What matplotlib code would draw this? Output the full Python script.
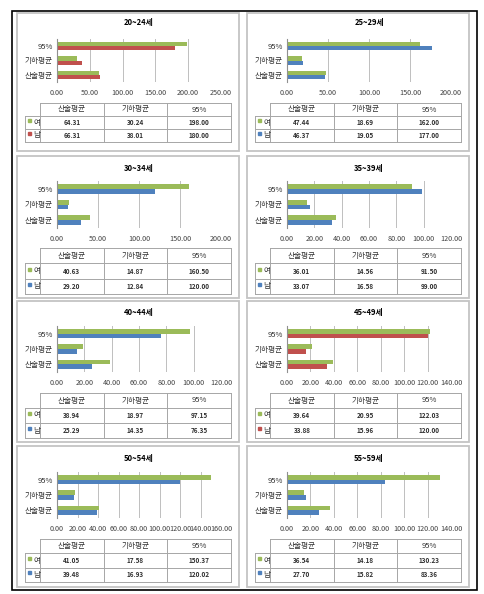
import matplotlib.pyplot as plt
from matplotlib.patches import Rectangle

plt.rcParams['font.family'] = ['Noto Sans CJK KR', 'DejaVu Sans']

# data
titles = ["20~24세", "25~29세", "30~34세", "35~39세",
          "40~44세", "45~49세", "50~54세", "55~59세"]
categories = ["산술평균", "기하평균", "95%"]
series_names = ["여", "남"]
female = [[64.31, 30.24, 198.00],
          [47.44, 18.69, 162.00],
          [40.63, 14.87, 160.50],
          [36.01, 14.56, 91.50],
          [38.94, 18.97, 97.15],
          [39.64, 20.95, 122.03],
          [41.05, 17.58, 150.37],
          [36.54, 14.18, 130.23]]
male = [[66.31, 38.01, 180.00],
        [46.37, 19.05, 177.00],
        [29.20, 12.84, 120.00],
        [33.07, 16.58, 99.00],
        [25.29, 14.35, 76.35],
        [33.88, 15.96, 120.00],
        [39.48, 16.93, 120.02],
        [27.70, 15.82, 83.36]]
x_max = [250, 200, 200, 120, 120, 140, 160, 140]
x_step = [50, 50, 50, 20, 20, 20, 20, 20]

GREEN = "#9BBB59"
RED = "#C0504D"
BLUE = "#4F81BD"
male_colors = [RED, BLUE, BLUE, BLUE, BLUE, RED, BLUE, BLUE]
LINE = "#A6A6A6"

W, H = 484, 594
fig = plt.figure(figsize=(W / 100, H / 100), dpi=100)

over = fig.add_axes([0, 0, 1, 1])
over.set_xlim(0, W)
over.set_ylim(H, 0)
over.axis("off")

# outer frame
over.add_patch(Rectangle((12, 11), 465, 579, fill=False, ec="black", lw=1.2))

# row geometry: panel top, title y, plot top, plot bottom, table top, table bottom, panel bottom
rows = [(13, 23, 39, 82, 103, 142, 151),
        (156, 168, 181, 228, 248, 294, 298),
        (301, 313, 326, 372, 393, 438, 442),
        (446, 458, 472, 518, 539, 582, 587)]

for i in range(8):
    r, c = divmod(i, 2)
    dx = 0 if c == 0 else 230
    top, ty, pt, pb, tt, tb, bot = rows[r]

    # panel border
    over.add_patch(Rectangle((17 + dx, top), 222, bot - top, fill=False,
                             ec="#C4C4C4", lw=1.3))
    over.text(139 + dx, ty, titles[i], ha="center", va="center",
              fontsize=5.5, fontweight="bold")

    # bar chart
    ax = fig.add_axes([(57 + dx) / W, 1 - pb / H, 164 / W, (pb - pt) / H])
    ax.patch.set_alpha(0)
    ys = range(len(categories))
    ax.barh([y + 0.15 for y in ys], female[i], height=0.3, color=GREEN)
    ax.barh([y - 0.15 for y in ys], male[i], height=0.3, color=male_colors[i])
    ax.set_xlim(0, x_max[i])
    ax.set_ylim(-0.5, 2.5)
    ax.set_xticks(range(0, x_max[i] + 1, x_step[i]))
    ax.set_xticklabels(["%.2f" % t for t in range(0, x_max[i] + 1, x_step[i])])
    ax.set_yticks(list(ys))
    ax.set_yticklabels(categories)
    ax.tick_params(axis="x", length=0, pad=5, labelsize=5.2, colors="#404040")
    ax.tick_params(axis="y", length=0, pad=3, labelsize=5.5, colors="#303030")
    ax.grid(axis="x", color="#BEBEBE", lw=0.7)
    ax.set_axisbelow(True)
    for s in ["top", "right", "bottom"]:
        ax.spines[s].set_visible(False)
    ax.spines["left"].set_color("#909090")
    ax.spines["left"].set_linewidth(0.8)

    # data table
    x0, xl, x3 = 40 + dx, 25 + dx, 231 + dx
    cw = (x3 - x0) / 3
    rh = (tb - tt) / 3
    over.plot([x0, x3], [tt, tt], color=LINE, lw=0.7)
    for k in range(1, 4):
        over.plot([xl, x3], [tt + k * rh, tt + k * rh], color=LINE, lw=0.7)
    for k in range(4):
        over.plot([x0 + k * cw] * 2, [tt, tb], color=LINE, lw=0.7)
    over.plot([xl, xl], [tt + rh, tb], color=LINE, lw=0.7)
    for k, name in enumerate(categories):
        over.text(x0 + (k + 0.5) * cw, tt + rh / 2, name, ha="center",
                  va="center", fontsize=5.5, color="#303030")
    for j, (vals, col) in enumerate([(female[i], GREEN), (male[i], male_colors[i])]):
        yc = tt + (j + 1.5) * rh
        over.add_patch(Rectangle((xl + 3, yc - 3.5), 3, 3, color=col))
        over.text(xl + 8, yc, series_names[j], ha="left", va="center",
                  fontsize=5.5, color="#303030")
        for k in range(3):
            over.text(x0 + (k + 0.5) * cw, yc, "%.2f" % vals[k], ha="center",
                      va="center", fontsize=4.6, fontweight="bold", color="#303030")

fig.savefig("out.png", dpi=100)
